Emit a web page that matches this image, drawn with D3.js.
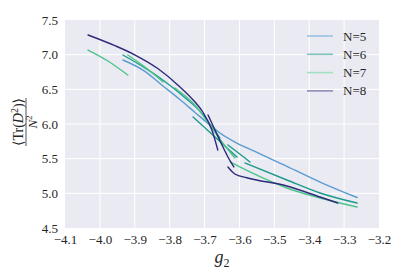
<!DOCTYPE html>
<html>
<head>
<meta charset="utf-8">
<script src="https://cdn.jsdelivr.net/npm/d3@7"></script>
<style>
html,body{margin:0;padding:0;background:#fff;}
svg{display:block;}
text{font-family:"Liberation Serif","DejaVu Serif",serif;fill:#262626;}
</style>
</head>
<body>
<svg id="chart" width="407" height="280"></svg>
<script>
// ---- data ----
const xTicks = [-4.1,-4.0,-3.9,-3.8,-3.7,-3.6,-3.5,-3.4,-3.3,-3.2];
const yTicks = [4.5,5.0,5.5,6.0,6.5,7.0,7.5];
const seriesNames = ["N=5","N=6","N=7","N=8"];
const seriesColors = ["#5b9bd0","#1d9a8c","#4cc58a","#2c2a7c"];
const legendColors = ["#9cc2e3","#7fc4bb","#a3e0c1","#8e8cba"];

// each series: list of runs, each run a list of [g2, value]
const n5Runs = [
  [[-3.934,6.923],[-3.871,6.760],[-3.822,6.560],[-3.770,6.350],[-3.728,6.170],[-3.685,5.986],
   [-3.656,5.870],[-3.613,5.740],[-3.561,5.615],[-3.464,5.390],[-3.369,5.163],[-3.263,4.940]]
];
const n6Runs = [
  [[-3.934,6.995],[-3.862,6.780],[-3.813,6.610],[-3.756,6.380],[-3.707,6.150],[-3.679,5.960],[-3.656,5.800]],
  [[-3.733,6.101],[-3.670,5.812],[-3.607,5.524]],
  [[-3.633,5.697],[-3.599,5.567],[-3.570,5.452]],
  [[-3.584,5.437],[-3.464,5.192],[-3.369,5.005],[-3.263,4.860]]
];
const n7Runs = [
  [[-4.034,7.067],[-3.977,6.909],[-3.920,6.707]],
  [[-3.920,6.995],[-3.871,6.822],[-3.819,6.606]],
  [[-3.785,6.519],[-3.728,6.274],[-3.685,5.986],[-3.650,5.740],[-3.613,5.510]],
  [[-3.627,5.452],[-3.570,5.308],[-3.464,5.077],[-3.369,4.933],[-3.263,4.803]]
];
const n8Runs = [
  [[-4.034,7.284],[-3.957,7.130],[-3.899,6.995],[-3.834,6.800],[-3.776,6.560],[-3.728,6.320],
   [-3.705,6.173],[-3.679,5.913],[-3.662,5.625]],
  [[-3.690,6.130],[-3.670,5.913],[-3.650,5.697],[-3.633,5.524],[-3.616,5.380]],
  [[-3.633,5.380],[-3.613,5.279],[-3.579,5.225],[-3.464,5.106],[-3.369,4.947],[-3.318,4.860]]
];
const allRuns = [n5Runs, n6Runs, n7Runs, n8Runs];

// ---- layout ----
const svg = d3.select("#chart");
const mLeft = 65, mRight = 379, mTop = 20, mBottom = 228;
const x = d3.scaleLinear().domain([-4.1,-3.2]).range([mLeft,mRight]);
const y = d3.scaleLinear().domain([4.5,7.5]).range([mBottom,mTop]);

svg.append("rect").attr("x",mLeft).attr("y",mTop)
  .attr("width",mRight-mLeft).attr("height",mBottom-mTop).attr("fill","#eaeaf2");

svg.append("defs").append("clipPath").attr("id","clip")
  .append("rect").attr("x",mLeft).attr("y",mTop).attr("width",mRight-mLeft).attr("height",mBottom-mTop);

// grid
const grid = svg.append("g");
grid.selectAll("line.gx").data(xTicks.slice(1,-1)).enter().append("line")
  .attr("x1",d=>x(d)).attr("x2",d=>x(d)).attr("y1",mTop).attr("y2",mBottom)
  .attr("stroke","#fff").attr("stroke-width",1);
grid.selectAll("line.gy").data(yTicks.slice(1,-1)).enter().append("line")
  .attr("x1",mLeft).attr("x2",mRight).attr("y1",d=>y(d)).attr("y2",d=>y(d))
  .attr("stroke","#fff").attr("stroke-width",1);

const fmt = d => (d<0?"\u2212":"") + Math.abs(d).toFixed(1);

// axes
const xAxis = d3.axisBottom(x).tickValues(xTicks).tickSize(0).tickPadding(7).tickFormat(fmt);
const gx = svg.append("g").attr("transform",`translate(0,${mBottom})`).call(xAxis);
gx.select(".domain").remove();
gx.selectAll("text").attr("font-family",null).style("font-family","Liberation Serif")
  .style("font-size","13px").attr("fill","#333");

const yAxis = d3.axisLeft(y).tickValues(yTicks).tickSize(0).tickPadding(7).tickFormat(fmt);
const gy = svg.append("g").attr("transform",`translate(${mLeft},0)`).call(yAxis);
gy.select(".domain").remove();
gy.selectAll("text").attr("font-family",null).style("font-family","Liberation Serif")
  .style("font-size","13px").attr("fill","#333");
gx.attr("font-family",null); gy.attr("font-family",null);

// lines
const line = d3.line().x(d=>x(d[0])).y(d=>y(d[1])).curve(d3.curveMonotoneX);
const plot = svg.append("g").attr("clip-path","url(#clip)");
allRuns.forEach((runs,i)=>{
  plot.selectAll(null).data(runs).enter().append("path")
    .attr("d",line).attr("fill","none")
    .attr("stroke",seriesColors[i]).attr("stroke-width",1.4)
    .attr("stroke-linecap","round");
});

// legend
const lg = svg.append("g");
seriesNames.forEach((n,i)=>{
  const ly = 36 + i*18.3;
  lg.append("line").attr("x1",307).attr("x2",333).attr("y1",ly).attr("y2",ly)
    .attr("stroke",legendColors[i]).attr("stroke-width",1.6);
  lg.append("text").attr("x",343).attr("y",ly+4.5).style("font-size","13px").text(n);
});

// x label
const xl = svg.append("text").attr("x",222).attr("y",263).attr("text-anchor","middle")
  .style("font-size","18px");
xl.append("tspan").style("font-style","italic").text("g");
xl.append("tspan").attr("dy",4).style("font-size","12px").text("2");

// y label (fraction)
const yl = svg.append("g").attr("transform","translate(26,122) rotate(-90)");
const num = yl.append("text").attr("x",0).attr("y",-3).attr("text-anchor","middle").style("font-size","14px");
num.append("tspan").text("\u27E8Tr(");
num.append("tspan").style("font-style","italic").text("D");
num.append("tspan").attr("dy",-5).style("font-size","10px").text("2");
num.append("tspan").attr("dy",5).text(")\u27E9");
yl.append("line").attr("x1",-24).attr("x2",24).attr("y1",0).attr("y2",0)
  .attr("stroke","#262626").attr("stroke-width",0.8);
const den = yl.append("text").attr("x",0).attr("y",11).attr("text-anchor","middle").style("font-size","13px");
den.append("tspan").style("font-style","italic").text("N");
den.append("tspan").attr("dy",-5).style("font-size","9px").text("2");
</script>
</body>
</html>
